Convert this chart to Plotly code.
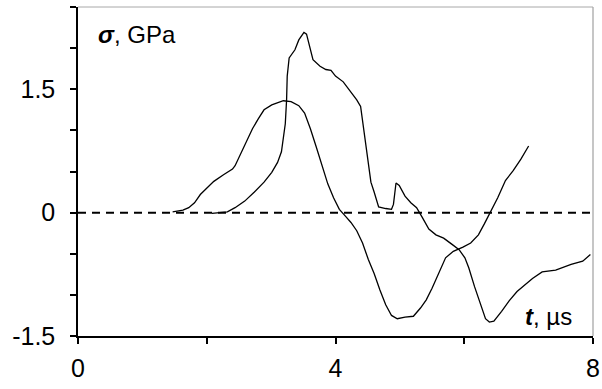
import plotly.graph_objects as go

t_a = [1.47, 1.63, 1.72, 1.81, 1.90, 1.99, 2.11, 2.26, 2.40, 2.44, 2.50, 2.62, 2.71, 2.80, 2.89, 3.01, 3.19, 3.31, 3.43, 3.52, 3.61, 3.70, 3.79, 3.88, 3.97, 4.06, 4.15, 4.24, 4.33, 4.42, 4.51, 4.60, 4.69, 4.78, 4.87, 4.96, 5.08, 5.21, 5.32, 5.41, 5.50, 5.59, 5.71, 5.83, 5.98, 6.10, 6.22, 6.31, 6.40, 6.52, 6.64, 6.76, 6.88, 7.00]
s_a = [0.01, 0.03, 0.06, 0.12, 0.22, 0.29, 0.38, 0.46, 0.53, 0.57, 0.67, 0.85, 1.02, 1.14, 1.25, 1.31, 1.36, 1.35, 1.30, 1.21, 1.02, 0.80, 0.56, 0.35, 0.18, 0.04, -0.04, -0.12, -0.22, -0.37, -0.57, -0.74, -0.94, -1.12, -1.25, -1.29, -1.27, -1.26, -1.16, -1.06, -0.92, -0.76, -0.55, -0.47, -0.42, -0.37, -0.27, -0.14, 0.00, 0.18, 0.39, 0.51, 0.65, 0.81]

t_b = [2.08, 2.20, 2.32, 2.44, 2.59, 2.74, 2.89, 3.01, 3.10, 3.16, 3.20, 3.22, 3.24, 3.25, 3.28, 3.37, 3.43, 3.51, 3.55, 3.60, 3.65, 3.76, 3.85, 3.93, 4.00, 4.12, 4.24, 4.33, 4.39, 4.45, 4.51, 4.55, 4.60, 4.67, 4.78, 4.87, 4.90, 4.94, 4.99, 5.08, 5.17, 5.26, 5.35, 5.45, 5.56, 5.68, 5.80, 5.92, 6.01, 6.07, 6.16, 6.25, 6.33, 6.39, 6.46, 6.58, 6.70, 6.82, 6.94, 7.06, 7.21, 7.42, 7.66, 7.84, 7.96]
s_b = [-0.01, 0.00, 0.01, 0.06, 0.14, 0.25, 0.37, 0.49, 0.61, 0.74, 0.96, 1.08, 1.37, 1.66, 1.88, 1.98, 2.10, 2.19, 2.17, 2.02, 1.86, 1.78, 1.74, 1.73, 1.66, 1.59, 1.47, 1.37, 1.29, 0.96, 0.63, 0.37, 0.25, 0.07, 0.05, 0.04, 0.10, 0.36, 0.33, 0.20, 0.12, 0.06, -0.06, -0.20, -0.27, -0.31, -0.38, -0.45, -0.55, -0.67, -0.90, -1.12, -1.29, -1.33, -1.32, -1.20, -1.07, -0.96, -0.88, -0.80, -0.72, -0.70, -0.63, -0.59, -0.51]

x_ticks = [0, 4, 8]
x_labels = ["0", "4", "8"]
y_ticks = [-1.5, 0, 1.5]
y_labels = ["-1.5", "0", "1.5"]

FONT = "Liberation Sans, Arial, sans-serif"

fig = go.Figure()
fig.add_trace(go.Scatter(x=t_a, y=s_a, mode="lines", line=dict(color="black", width=1.3), showlegend=False))
fig.add_trace(go.Scatter(x=t_b, y=s_b, mode="lines", line=dict(color="black", width=1.3), showlegend=False))

fig.add_shape(type="line", xref="x", yref="y", x0=0, x1=8, y0=0, y1=0,
              line=dict(color="black", width=2, dash="8px,6px"))
# light grey frame on top and right of the plot area
fig.add_shape(type="line", xref="x domain", yref="y domain", x0=1, x1=1, y0=0, y1=1,
              line=dict(color="#a0a0a0", width=1.2))
fig.add_shape(type="line", xref="x domain", yref="y domain", x0=0, x1=1, y0=1, y1=1,
              line=dict(color="#a8a8a8", width=1))

fig.add_annotation(x=0.28, y=2.16, xref="x", yref="y", xanchor="left", yanchor="middle",
                   text="<b><i>σ</i></b>, GPa", showarrow=False,
                   font=dict(family=FONT, size=24, color="black"))
fig.add_annotation(x=7.70, y=-1.26, xref="x", yref="y", xanchor="right", yanchor="middle",
                   text="<b><i>t</i></b>, µs", showarrow=False,
                   font=dict(family=FONT, size=24, color="black"))

fig.update_layout(
    width=602, height=389,
    margin=dict(l=78, r=9, t=7, b=53),
    paper_bgcolor="white", plot_bgcolor="white",
    font=dict(family=FONT, size=25, color="black"),
    xaxis=dict(range=[0, 8], tickvals=x_ticks, ticktext=x_labels, showgrid=False, zeroline=False,
               automargin=False, layer="above traces",
               showline=True, linecolor="black", linewidth=1.5, ticks="outside", ticklen=6,
               tickcolor="black", tickwidth=1.5, ticklabelstandoff=3,
               minor=dict(tickmode="linear", tick0=0, dtick=2, ticks="outside", ticklen=6,
                          tickcolor="black", tickwidth=1.5, showgrid=False)),
    yaxis=dict(range=[-1.5, 2.5], tickvals=y_ticks, ticktext=y_labels, showgrid=False, zeroline=False,
               automargin=False, layer="above traces",
               showline=True, linecolor="black", linewidth=1.5, ticks="outside", ticklen=6,
               tickcolor="black", tickwidth=1.5, ticklabelstandoff=10,
               minor=dict(tickmode="linear", tick0=-1.5, dtick=0.5, ticks="outside", ticklen=6,
                          tickcolor="black", tickwidth=1.5, showgrid=False)),
)

fig.write_html("out.html")
